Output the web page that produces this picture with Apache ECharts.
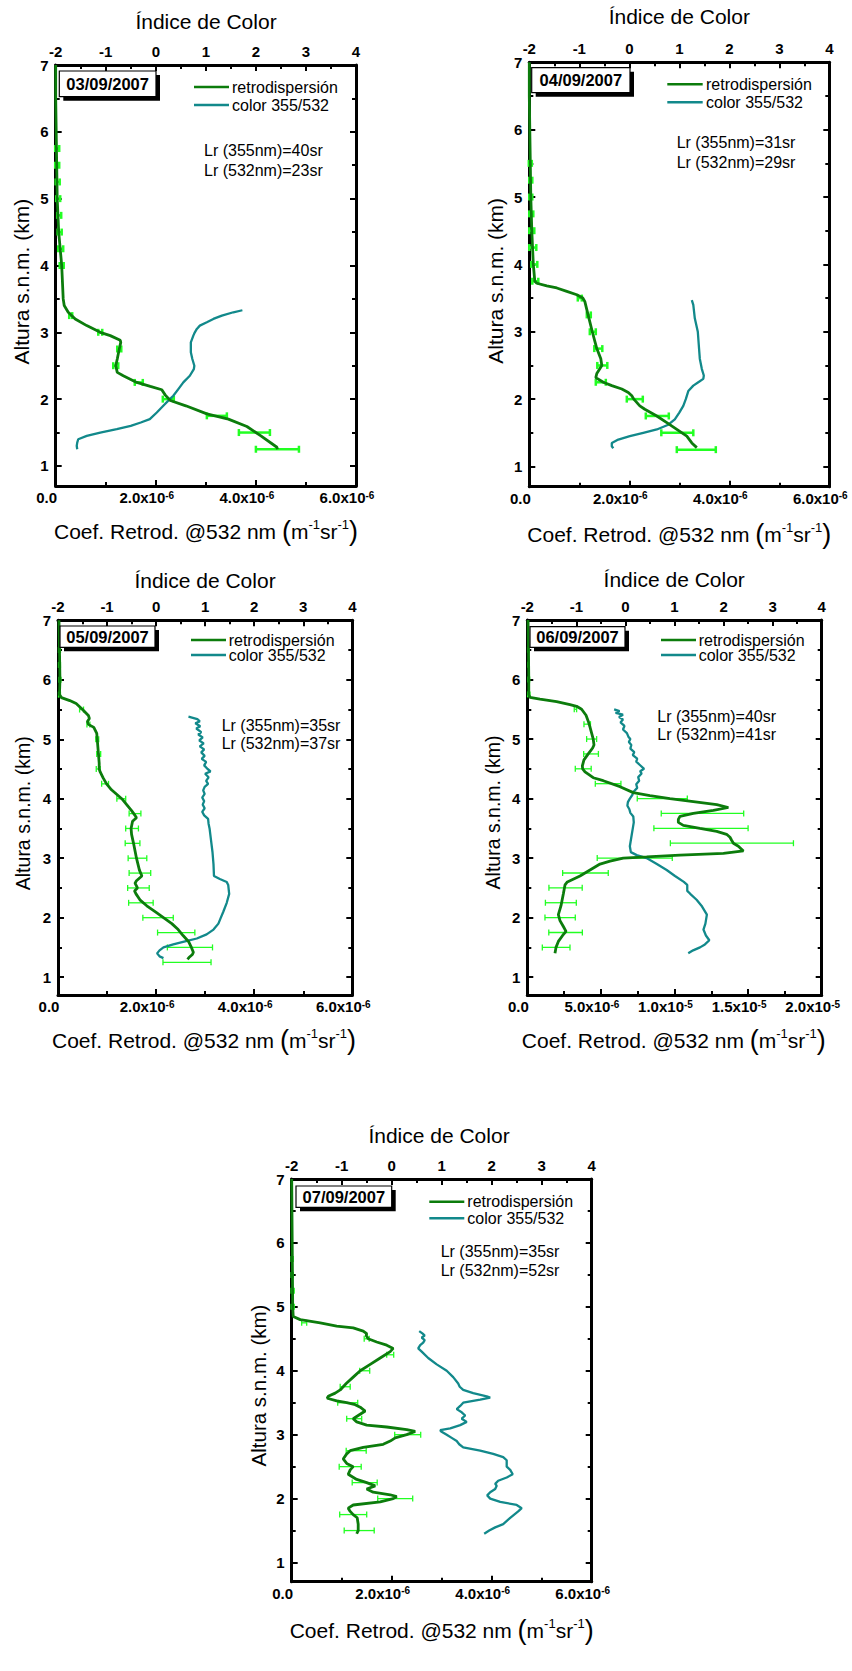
<!DOCTYPE html>
<html>
<head>
<meta charset="utf-8">
<script src="https://cdn.jsdelivr.net/npm/echarts@6/dist/echarts.min.js"></script>
<style>
  html, body { margin: 0; padding: 0; background: #fff; }
  #chart { width: 852px; height: 1671px; }
</style>
</head>
<body>
<div id="chart"></div>
<script>
// ---- Profile data: altitude (km a.s.l.), backscatter (1e-6 m^-1 sr^-1), colour index 355/532 ----
const dates = ['03/09/2007', '04/09/2007', '05/09/2007', '06/09/2007', '07/09/2007'];
const lr355 = [40, 31, 35, 40, 35];
const lr532 = [23, 29, 37, 41, 52];
const altTicks = [1, 2, 3, 4, 5, 6, 7];
const altMinorTicks = [1.5, 2.5, 3.5, 4.5, 5.5, 6.5];

// 03/09/2007
const retroAlt0309 = [7.0, 6.5, 6.0, 5.5, 5.0, 4.5, 4.0, 3.5, 3.4, 3.3, 3.2, 3.1, 3.0, 2.95, 2.88, 2.85, 2.75, 2.6, 2.5, 2.4, 2.35, 2.25, 2.19, 2.14, 2.06, 1.98, 1.9, 1.78, 1.7, 1.59, 1.45, 1.28, 1.25];
const retro0309 = [0.0, 0.0, 0.01, 0.02, 0.03, 0.06, 0.12, 0.15, 0.17, 0.25, 0.39, 0.62, 0.89, 1.09, 1.29, 1.30, 1.27, 1.23, 1.20, 1.23, 1.35, 1.62, 1.89, 2.12, 2.19, 2.29, 2.6, 3.02, 3.45, 3.82, 4.1, 4.42, 4.43];
const colorAlt0309 = [3.33, 3.3, 3.25, 3.2, 3.15, 3.1, 3.05, 3.0, 2.95, 2.85, 2.7, 2.6, 2.5, 2.45, 2.35, 2.25, 2.15, 2.05, 2.0, 1.9, 1.8, 1.7, 1.65, 1.6, 1.55, 1.5, 1.45, 1.4, 1.35, 1.3, 1.25];
const color0309 = [1.73, 1.55, 1.32, 1.15, 1.02, 0.88, 0.82, 0.78, 0.75, 0.70, 0.70, 0.73, 0.77, 0.76, 0.68, 0.55, 0.45, 0.35, 0.28, 0.15, 0.02, -0.12, -0.30, -0.50, -0.78, -1.11, -1.38, -1.55, -1.57, -1.58, -1.57];
const errAlt0309 = [1.25, 1.5, 1.75, 2.0, 2.25, 2.5, 2.75, 3.0, 3.25, 4.0, 4.25, 4.5, 4.75, 5.0, 5.25, 5.5, 5.75];
const errMid0309 = [4.43, 3.97, 3.22, 2.25, 1.66, 1.20, 1.27, 0.89, 0.30, 0.12, 0.10, 0.08, 0.07, 0.05, 0.04, 0.03, 0.03];
const errHalf0309 = [0.43, 0.31, 0.2, 0.11, 0.08, 0.05, 0.04, 0.04, 0.03, 0.04, 0.05, 0.04, 0.04, 0.04, 0.04, 0.04, 0.04];

// 04/09/2007
const retroAlt0409 = [7.0, 6.5, 6.0, 5.5, 5.0, 4.5, 4.0, 3.75, 3.72, 3.68, 3.65, 3.6, 3.55, 3.5, 3.45, 3.3, 3.0, 2.75, 2.6, 2.5, 2.45, 2.38, 2.32, 2.25, 2.2, 2.15, 2.1, 2.05, 2.0, 1.9, 1.85, 1.75, 1.65, 1.55, 1.45, 1.35, 1.28];
const retro0409 = [0.0, 0.0, 0.01, 0.02, 0.03, 0.05, 0.08, 0.11, 0.15, 0.35, 0.55, 0.75, 0.95, 1.07, 1.11, 1.16, 1.26, 1.35, 1.43, 1.45, 1.41, 1.35, 1.33, 1.48, 1.65, 1.85, 1.98, 2.05, 2.09, 2.21, 2.31, 2.55, 2.75, 2.95, 3.15, 3.25, 3.35];
const colorAlt0409 = [3.47, 3.4, 3.2, 3.0, 2.8, 2.6, 2.45, 2.35, 2.3, 2.25, 2.2, 2.12, 2.0, 1.9, 1.8, 1.7, 1.62, 1.55, 1.5, 1.45, 1.4, 1.35, 1.3, 1.27];
const color0409 = [1.25, 1.28, 1.31, 1.37, 1.39, 1.41, 1.45, 1.49, 1.48, 1.38, 1.28, 1.18, 1.13, 1.08, 1.0, 0.91, 0.78, 0.55, 0.28, 0.01, -0.22, -0.35, -0.35, -0.32];
const errAlt0409 = [1.25, 1.5, 1.75, 2.0, 2.25, 2.5, 2.75, 3.0, 3.25, 3.5, 3.75, 4.0, 4.25, 4.5, 4.75, 5.0, 5.25, 5.5];
const errMid0409 = [3.34, 2.96, 2.56, 2.11, 1.43, 1.46, 1.38, 1.27, 1.19, 1.01, 0.12, 0.10, 0.07, 0.05, 0.04, 0.03, 0.03, 0.02];
const errHalf0409 = [0.39, 0.32, 0.23, 0.16, 0.1, 0.1, 0.08, 0.06, 0.04, 0.04, 0.06, 0.06, 0.07, 0.05, 0.04, 0.03, 0.03, 0.03];

// 05/09/2007
const retroAlt0509 = [7.0, 6.5, 6.0, 5.75, 5.7, 5.65, 5.6, 5.5, 5.4, 5.35, 5.3, 5.25, 5.2, 5.1, 5.0, 4.8, 4.6, 4.5, 4.45, 4.35, 4.25, 4.15, 4.05, 4.0, 3.9, 3.8, 3.72, 3.68, 3.62, 3.5, 3.4, 3.25, 3.0, 2.8, 2.7, 2.62, 2.58, 2.5, 2.45, 2.4, 2.3, 2.2, 2.1, 2.0, 1.9, 1.8, 1.7, 1.6, 1.5, 1.42, 1.38, 1.33, 1.3];
const retro0509 = [0.02, 0.03, 0.04, 0.03, 0.07, 0.24, 0.37, 0.50, 0.62, 0.64, 0.60, 0.62, 0.73, 0.79, 0.80, 0.82, 0.84, 0.84, 0.86, 0.92, 0.99, 1.09, 1.23, 1.30, 1.40, 1.50, 1.57, 1.60, 1.52, 1.49, 1.50, 1.54, 1.60, 1.66, 1.71, 1.60, 1.57, 1.62, 1.56, 1.59, 1.67, 1.81, 1.98, 2.15, 2.32, 2.45, 2.55, 2.66, 2.72, 2.76, 2.74, 2.67, 2.64];
const colorAlt0509 = [5.38, 5.34, 5.3, 5.27, 5.22, 5.18, 5.12, 5.08, 5.03, 4.98, 4.93, 4.88, 4.83, 4.78, 4.72, 4.67, 4.62, 4.56, 4.5, 4.46, 4.42, 4.36, 4.3, 4.25, 4.2, 4.14, 4.08, 4.02, 3.96, 3.9, 3.84, 3.78, 3.72, 3.66, 3.58, 3.5, 3.3, 3.1, 2.9, 2.7, 2.65, 2.6, 2.55, 2.4, 2.25, 2.1, 2.0, 1.9, 1.8, 1.72, 1.65, 1.6, 1.55, 1.5, 1.45, 1.4, 1.35, 1.32];
const color0509 = [0.66, 0.84, 0.89, 0.80, 0.90, 0.82, 0.92, 0.86, 0.95, 0.88, 0.97, 0.89, 0.98, 0.92, 0.99, 0.93, 1.02, 0.98, 1.05, 1.11, 1.00, 1.07, 1.02, 1.06, 0.99, 0.96, 0.99, 0.94, 0.98, 0.95, 0.99, 0.94, 0.98, 1.06, 1.07, 1.09, 1.12, 1.15, 1.17, 1.18, 1.30, 1.44, 1.47, 1.49, 1.44, 1.37, 1.32, 1.27, 1.17, 1.03, 0.83, 0.59, 0.35, 0.15, 0.07, 0.02, 0.07, 0.15];
const errAlt0509 = [1.25, 1.5, 1.75, 2.0, 2.25, 2.5, 2.75, 3.0, 3.25, 3.5, 3.75, 4.0, 4.25, 4.5, 4.75, 5.0, 5.25, 5.5, 5.75, 6.0, 6.25, 6.5];
const errMid0509 = [2.63, 2.69, 2.41, 2.04, 1.69, 1.64, 1.67, 1.62, 1.52, 1.51, 1.57, 1.29, 0.96, 0.82, 0.83, 0.80, 0.62, 0.48, 0.03, 0.04, 0.03, 0.03];
const errHalf0509 = [0.49, 0.46, 0.38, 0.31, 0.25, 0.22, 0.22, 0.19, 0.15, 0.13, 0.12, 0.09, 0.07, 0.04, 0.04, 0.03, 0.03, 0.04, 0.02, 0.02, 0.02, 0.02];

// 06/09/2007
const retroAlt0609 = [7.0, 6.5, 6.0, 5.75, 5.7, 5.67, 5.63, 5.58, 5.55, 5.5, 5.4, 5.3, 5.2, 5.1, 5.0, 4.9, 4.85, 4.75, 4.65, 4.55, 4.5, 4.45, 4.35, 4.3, 4.2, 4.1, 4.05, 4.0, 3.95, 3.9, 3.85, 3.8, 3.75, 3.7, 3.65, 3.6, 3.55, 3.5, 3.45, 3.4, 3.35, 3.3, 3.25, 3.2, 3.12, 3.08, 3.05, 3.02, 3.0, 2.95, 2.9, 2.8, 2.7, 2.6, 2.55, 2.4, 2.2, 2.05, 1.95, 1.85, 1.77, 1.7, 1.6, 1.5, 1.4];
const retro0609 = [0.05, 0.08, 0.1, 0.1, 0.18, 0.86, 1.99, 2.90, 3.35, 3.69, 3.99, 4.14, 4.26, 4.37, 4.48, 4.53, 4.44, 4.14, 3.85, 3.74, 3.76, 3.92, 4.48, 5.16, 6.30, 7.20, 8.33, 9.69, 11.28, 12.87, 13.66, 12.64, 11.28, 10.37, 10.26, 10.26, 10.60, 11.73, 12.87, 13.54, 13.77, 13.88, 14.0, 14.34, 14.68, 13.32, 10.37, 8.11, 6.52, 5.62, 4.94, 4.26, 3.58, 2.72, 2.56, 2.45, 2.29, 2.11, 2.22, 2.45, 2.63, 2.40, 2.11, 1.95, 1.88];
const colorAlt0609 = [5.5, 5.47, 5.44, 5.41, 5.37, 5.33, 5.28, 5.22, 5.16, 5.1, 5.04, 5.0, 4.95, 4.9, 4.84, 4.78, 4.73, 4.67, 4.62, 4.56, 4.5, 4.46, 4.42, 4.36, 4.3, 4.24, 4.18, 4.12, 4.06, 4.0, 3.94, 3.88, 3.82, 3.76, 3.7, 3.6, 3.5, 3.4, 3.2, 3.1, 3.05, 3.0, 2.9, 2.8, 2.7, 2.6, 2.55, 2.45, 2.4, 2.3, 2.2, 2.05, 1.9, 1.8, 1.7, 1.62, 1.55, 1.5, 1.45, 1.4];
const color0609 = [-0.23, -0.12, -0.20, -0.05, -0.13, -0.05, -0.10, -0.02, -0.05, 0.03, 0.06, 0.10, 0.07, 0.12, 0.10, 0.18, 0.15, 0.24, 0.22, 0.30, 0.38, 0.30, 0.33, 0.26, 0.28, 0.22, 0.24, 0.17, 0.14, 0.09, 0.05, 0.04, 0.08, 0.10, 0.16, 0.17, 0.15, 0.13, 0.09, 0.11, 0.23, 0.43, 0.64, 0.84, 1.01, 1.19, 1.26, 1.26, 1.32, 1.45, 1.55, 1.66, 1.63, 1.59, 1.64, 1.71, 1.62, 1.52, 1.38, 1.28];
const errAlt0609 = [1.5, 1.75, 2.0, 2.25, 2.5, 2.75, 3.0, 3.25, 3.5, 3.75, 4.0, 4.25, 4.5, 4.75, 5.0, 5.25, 5.5, 5.75, 6.0, 6.25, 6.5];
const errMid0609 = [1.96, 2.6, 2.23, 2.28, 2.6, 3.95, 7.3, 13.9, 11.8, 11.9, 9.17, 5.49, 3.8, 4.33, 4.37, 4.07, 3.27, 0.1, 0.1, 0.08, 0.07];
const errHalf0609 = [0.94, 1.14, 1.03, 1.05, 1.13, 1.55, 2.55, 4.18, 3.2, 2.8, 1.7, 0.87, 0.54, 0.5, 0.34, 0.22, 0.08, 0.08, 0.06, 0.05, 0.05];

// 07/09/2007
const retroAlt0709 = [7.0, 6.0, 5.0, 4.85, 4.8, 4.75, 4.7, 4.67, 4.62, 4.58, 4.55, 4.5, 4.45, 4.4, 4.35, 4.3, 4.2, 4.1, 4.0, 3.9, 3.8, 3.7, 3.65, 3.6, 3.57, 3.53, 3.5, 3.47, 3.43, 3.37, 3.3, 3.25, 3.2, 3.15, 3.12, 3.08, 3.05, 3.0, 2.95, 2.9, 2.85, 2.8, 2.75, 2.7, 2.62, 2.55, 2.5, 2.45, 2.38, 2.3, 2.25, 2.2, 2.15, 2.1, 2.06, 2.03, 2.0, 1.95, 1.9, 1.85, 1.8, 1.75, 1.7, 1.6, 1.5, 1.45];
const retro0709 = [0.0, 0.01, 0.02, 0.03, 0.17, 0.57, 0.9, 1.23, 1.43, 1.5, 1.49, 1.53, 1.7, 1.9, 2.03, 1.97, 1.77, 1.57, 1.37, 1.23, 1.09, 0.97, 0.87, 0.73, 0.71, 0.9, 1.1, 1.27, 1.37, 1.47, 1.33, 1.23, 1.3, 1.5, 1.9, 2.3, 2.47, 2.3, 2.07, 1.97, 1.83, 1.43, 1.17, 1.1, 1.03, 1.1, 1.23, 1.17, 1.13, 1.3, 1.5, 1.67, 1.5, 1.63, 1.97, 2.1, 2.03, 1.77, 1.23, 1.13, 1.17, 1.23, 1.31, 1.33, 1.33, 1.3];
const colorAlt0709 = [4.62, 4.58, 4.55, 4.52, 4.48, 4.44, 4.4, 4.35, 4.3, 4.2, 4.1, 4.0, 3.9, 3.8, 3.75, 3.7, 3.65, 3.6, 3.58, 3.55, 3.5, 3.45, 3.4, 3.35, 3.3, 3.25, 3.2, 3.15, 3.1, 3.07, 3.05, 3.0, 2.95, 2.9, 2.85, 2.8, 2.75, 2.7, 2.65, 2.6, 2.5, 2.45, 2.38, 2.33, 2.28, 2.23, 2.2, 2.15, 2.1, 2.05, 2.0, 1.95, 1.9, 1.85, 1.8, 1.7, 1.6, 1.55, 1.5, 1.45];
const color0709 = [0.55, 0.62, 0.66, 0.60, 0.66, 0.63, 0.57, 0.53, 0.60, 0.73, 0.90, 1.10, 1.23, 1.33, 1.36, 1.43, 1.63, 1.90, 1.97, 1.77, 1.43, 1.37, 1.30, 1.40, 1.47, 1.40, 1.50, 1.37, 1.17, 0.97, 0.99, 1.10, 1.20, 1.30, 1.35, 1.43, 1.77, 2.03, 2.23, 2.30, 2.30, 2.37, 2.42, 2.30, 2.13, 2.07, 2.10, 2.07, 1.97, 1.91, 1.97, 2.17, 2.50, 2.60, 2.53, 2.37, 2.23, 2.07, 1.95, 1.85];
const errAlt0709 = [1.5, 1.75, 2.0, 2.25, 2.5, 2.75, 3.0, 3.25, 3.5, 3.75, 4.0, 4.25, 4.5, 4.75, 5.0, 5.25, 5.5, 5.75];
const errMid0709 = [1.35, 1.23, 2.07, 1.46, 1.17, 1.29, 2.32, 1.25, 1.12, 1.07, 1.46, 1.97, 1.5, 0.25, 0.02, 0.02, 0.01, 0.01];
const errHalf0709 = [0.3, 0.27, 0.35, 0.25, 0.22, 0.2, 0.26, 0.15, 0.2, 0.1, 0.1, 0.07, 0.05, 0.05, 0.03, 0.03, 0.02, 0.02];

// ---- Assemble the five profiles ----
const profiles = [
  { retroAlt: retroAlt0309, retro: retro0309, colorAlt: colorAlt0309, color: color0309, errAlt: errAlt0309, errMid: errMid0309, errHalf: errHalf0309, bMax: 6, bStep: 2 },
  { retroAlt: retroAlt0409, retro: retro0409, colorAlt: colorAlt0409, color: color0409, errAlt: errAlt0409, errMid: errMid0409, errHalf: errHalf0409, bMax: 6, bStep: 2 },
  { retroAlt: retroAlt0509, retro: retro0509, colorAlt: colorAlt0509, color: color0509, errAlt: errAlt0509, errMid: errMid0509, errHalf: errHalf0509, bMax: 6, bStep: 2 },
  { retroAlt: retroAlt0609, retro: retro0609, colorAlt: colorAlt0609, color: color0609, errAlt: errAlt0609, errMid: errMid0609, errHalf: errHalf0609, bMax: 20, bStep: 5 },
  { retroAlt: retroAlt0709, retro: retro0709, colorAlt: colorAlt0709, color: color0709, errAlt: errAlt0709, errMid: errMid0709, errHalf: errHalf0709, bMax: 6, bStep: 2 }
];

// ---- Page layout of each panel (pixels) ----
const layout = [
  { grid: [55.7, 65, 300.3, 421], top: [206, 21.7], ytitle: [21.7, 281.7, 21], bottom: [206, 531], box: [59.3, 71, 96.7, 25.7], leg: [194, 229, 232, 87, 105], lr: [204, 150, 170], errW: 2.5, cap: 3.5 },
  { grid: [529.3, 62.3, 300, 424.4], top: [679.3, 16.7], ytitle: [495.7, 280.8, 21], bottom: [679.3, 534], box: [531.7, 67.7, 98.3, 25], leg: [667.3, 702.7, 706, 84.3, 102.3], lr: [676.7, 142.7, 162.7], errW: 2.5, cap: 3.5 },
  { grid: [58, 620.3, 294.3, 374.7], top: [205, 580], ytitle: [23, 813.3, 19.5], bottom: [204, 1040], box: [60, 626, 95, 21.3], leg: [191, 226, 228.7, 640, 655], lr: [221.7, 725.7, 743.3], errW: 1.3, cap: 3 },
  { grid: [527.3, 620, 294.4, 375], top: [674.2, 579.3], ytitle: [493.3, 812.5, 19.5], bottom: [673.8, 1040], box: [530, 626.7, 95, 20.6], leg: [661, 696, 698.7, 640, 655], lr: [657.3, 716.7, 734.3], errW: 1.3, cap: 3 },
  { grid: [291.7, 1179, 300, 402.7], top: [439, 1135], ytitle: [258.3, 1385.5, 20.5], bottom: [441.7, 1630], box: [296, 1186, 95.7, 21.3], leg: [429.3, 464.3, 467.3, 1201.7, 1218.3], lr: [440.7, 1251.7, 1270], errW: 1.3, cap: 3 }
];

const FONT = '"Liberation Sans", Arial, Helvetica, sans-serif';
const GREEN = '#0c7c0c';
const TEAL = '#12898b';
const ERR = '#22ff22';
const BLACK = '#000';

// backscatter tick label, value given in units of 1e-6
function sciLabel(v) {
  if (Math.abs(v) < 1e-9) return '0.0';
  const parts = (v * 1e-6).toExponential(1).split('e');
  return parts[0] + 'x10{sup|' + parts[1].replace('+', '') + '}';
}

const tickStyle = { color: BLACK, width: 2 };
const labelBase = { color: BLACK, fontFamily: FONT, fontWeight: 'bold', fontSize: 15 };

const grids = [], xAxes = [], yAxes = [], series = [], graphics = [];

profiles.forEach((p, i) => {
  const L = layout[i];
  grids.push({ left: L.grid[0], top: L.grid[1], width: L.grid[2], height: L.grid[3], containLabel: false });

  // bottom: backscatter coefficient
  xAxes.push({
    gridIndex: i, type: 'value', position: 'bottom', min: 0, max: p.bMax, interval: p.bStep,
    axisLine: { onZero: false, lineStyle: { color: BLACK, width: 3 } },
    axisTick: { inside: true, length: 6, lineStyle: tickStyle },
    minorTick: { show: true, splitNumber: 2, length: 4, lineStyle: tickStyle },
    splitLine: { show: false },
    axisLabel: Object.assign({}, labelBase, {
      margin: 4, padding: [0, 18, 0, 0], formatter: sciLabel, showMinLabel: true, showMaxLabel: true,
      rich: { sup: { fontSize: 10, fontWeight: 'bold', fontFamily: FONT, color: BLACK, verticalAlign: 'top', padding: [0, 0, 5, 0] } }
    })
  });
  // top: colour index
  xAxes.push({
    gridIndex: i, type: 'value', position: 'top', min: -2, max: 4, interval: 1,
    axisLine: { onZero: false, lineStyle: { color: BLACK, width: 3 } },
    axisTick: { inside: true, length: 6, lineStyle: tickStyle },
    minorTick: { show: true, splitNumber: 2, length: 4, lineStyle: tickStyle },
    splitLine: { show: false },
    axisLabel: Object.assign({}, labelBase, { margin: 6, showMinLabel: true, showMaxLabel: true })
  });

  // altitude axes: left with labels, left minor ticks, right mirrored ticks
  const altBase = { gridIndex: i, type: 'value', min: 0.7, max: 7, splitLine: { show: false } };
  yAxes.push(Object.assign({}, altBase, {
    position: 'left',
    axisLine: { show: true, onZero: false, lineStyle: { color: BLACK, width: 3 } },
    axisTick: { show: true, inside: true, length: 6, customValues: altTicks, lineStyle: tickStyle },
    axisLabel: Object.assign({}, labelBase, { margin: 7, customValues: altTicks })
  }));
  yAxes.push(Object.assign({}, altBase, {
    position: 'left',
    axisLine: { show: false, onZero: false },
    axisTick: { show: true, inside: true, length: 4, customValues: altMinorTicks, lineStyle: tickStyle },
    axisLabel: { show: false }
  }));
  yAxes.push(Object.assign({}, altBase, {
    position: 'right',
    axisLine: { show: true, onZero: false, lineStyle: { color: BLACK, width: 3 } },
    axisTick: { show: true, inside: true, length: 6, customValues: altTicks, lineStyle: tickStyle },
    axisLabel: { show: false }
  }));
  yAxes.push(Object.assign({}, altBase, {
    position: 'right',
    axisLine: { show: false, onZero: false },
    axisTick: { show: true, inside: true, length: 4, customValues: altMinorTicks, lineStyle: tickStyle },
    axisLabel: { show: false }
  }));

  const xb = 2 * i, xt = 2 * i + 1, yl = 4 * i;

  // horizontal error bars on the backscatter profile
  series.push({
    type: 'custom', xAxisIndex: xb, yAxisIndex: yl, z: 2, silent: true,
    encode: { x: 0, y: 1 },
    data: p.errAlt.map((a, k) => [p.errMid[k], a, p.errHalf[k]]),
    renderItem: (params, api) => {
      const mid = api.value(0), alt = api.value(1), half = api.value(2);
      const a = api.coord([mid - half, alt]);
      const b = api.coord([mid + half, alt]);
      const st = { stroke: ERR, lineWidth: L.errW };
      return {
        type: 'group', children: [
          { type: 'line', shape: { x1: a[0], y1: a[1], x2: b[0], y2: b[1] }, style: st },
          { type: 'line', shape: { x1: a[0], y1: a[1] - L.cap, x2: a[0], y2: a[1] + L.cap }, style: st },
          { type: 'line', shape: { x1: b[0], y1: b[1] - L.cap, x2: b[0], y2: b[1] + L.cap }, style: st }
        ]
      };
    }
  });
  // colour index profile
  series.push({
    type: 'line', xAxisIndex: xt, yAxisIndex: yl, z: 3, showSymbol: false, silent: true,
    data: p.colorAlt.map((a, k) => [p.color[k], a]),
    lineStyle: { color: TEAL, width: 2.3 }, itemStyle: { color: TEAL }
  });
  // backscatter profile
  series.push({
    type: 'line', xAxisIndex: xb, yAxisIndex: yl, z: 4, showSymbol: false, silent: true,
    data: p.retroAlt.map((a, k) => [p.retro[k], a]),
    lineStyle: { color: GREEN, width: 2.8 }, itemStyle: { color: GREEN }
  });

  // ---- annotations ----
  const txt = (x, y, text, extra) => ({
    type: 'text', x: x, y: y, z: 100, silent: true,
    style: Object.assign({ text: text, fill: BLACK, fontFamily: FONT, fontSize: 16, align: 'left', verticalAlign: 'middle' }, extra || {})
  });
  graphics.push(txt(L.top[0], L.top[1], 'Índice de Color', { fontSize: 21, align: 'center' }));
  graphics.push(Object.assign(txt(L.ytitle[0], L.ytitle[1], 'Altura s.n.m. (km)', { fontSize: L.ytitle[2], align: 'center' }), { rotation: Math.PI / 2 }));
  graphics.push(txt(L.bottom[0], L.bottom[1], 'Coef. Retrod. @532 nm {p|(}m{s|-1}sr{s|-1}{p|)}', {
    fontSize: 21, align: 'center',
    rich: {
      p: { fontSize: 27, fontFamily: FONT, fill: BLACK },
      s: { fontSize: 13, fontFamily: FONT, fill: BLACK, verticalAlign: 'top', padding: [0, 0, 8, 0] }
    }
  }));
  const bx = L.box;
  graphics.push({ type: 'rect', z: 99, silent: true, shape: { x: bx[0] + 4, y: bx[1] + 4, width: bx[2], height: bx[3] }, style: { fill: BLACK } });
  graphics.push({ type: 'rect', z: 99, silent: true, shape: { x: bx[0], y: bx[1], width: bx[2], height: bx[3] }, style: { fill: '#fff', stroke: BLACK, lineWidth: 1.2 } });
  graphics.push(txt(bx[0] + bx[2] / 2, bx[1] + bx[3] / 2, dates[i], { fontSize: 16.5, fontWeight: 'bold', align: 'center' }));

  const lg = L.leg;
  graphics.push({ type: 'line', z: 100, silent: true, shape: { x1: lg[0], y1: lg[3], x2: lg[1], y2: lg[3] }, style: { stroke: GREEN, lineWidth: 2.5 } });
  graphics.push({ type: 'line', z: 100, silent: true, shape: { x1: lg[0], y1: lg[4], x2: lg[1], y2: lg[4] }, style: { stroke: TEAL, lineWidth: 2.5 } });
  graphics.push(txt(lg[2], lg[3], 'retrodispersión'));
  graphics.push(txt(lg[2], lg[4], 'color 355/532'));

  graphics.push(txt(L.lr[0], L.lr[1], 'Lr (355nm)=' + lr355[i] + 'sr'));
  graphics.push(txt(L.lr[0], L.lr[2], 'Lr (532nm)=' + lr532[i] + 'sr'));
});

const chart = echarts.init(document.getElementById('chart'), null, { renderer: 'svg' });
chart.setOption({
  backgroundColor: '#fff',
  animation: false,
  grid: grids,
  xAxis: xAxes,
  yAxis: yAxes,
  series: series,
  graphic: graphics
});
</script>
</body>
</html>
